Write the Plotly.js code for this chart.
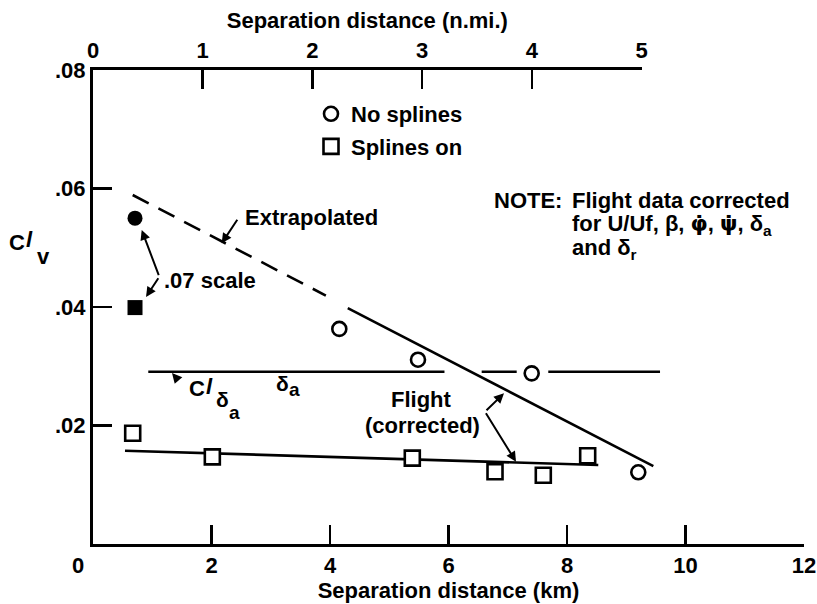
<!DOCTYPE html>
<html>
<head>
<meta charset="utf-8">
<script src="https://cdn.plot.ly/plotly-3.0.1.min.js"></script>
<style>
  html, body { margin: 0; padding: 0; background: #fff; }
  #chart { width: 817px; height: 604px; }
</style>
</head>
<body>
<div id="chart"></div>
<script>
// ---------------- data ----------------
const kmTicks = [2, 4, 6, 8, 10, 12];
const nmiTicks = [0, 1, 2, 3, 4, 5];
const yTicks = [0.02, 0.04, 0.06, 0.08];
const yTickText = ['.02', '.04', '.06', '.08'];
const KM_PER_NMI = 1.852;

// open circles: no splines
const noSplinesX = [4.157, 5.485, 7.404, 9.203];
const noSplinesY = [0.0363, 0.0311, 0.0288, 0.0121];
// open squares: splines on
const splinesOnX = [0.670, 2.014, 5.389, 6.785, 7.600, 8.349];
const splinesOnY = [0.0187, 0.0147, 0.0145, 0.0122, 0.0116, 0.0149];
// .07 scale points
const scaleCircleX = [0.709];
const scaleCircleY = [0.0550];
const scaleSquareX = [0.709];
const scaleSquareY = [0.0399];
// extrapolated (dashed) and fitted (solid) no-splines line
const extrapX = [0.670, 3.93];
const extrapY = [0.0589, 0.04193];
const fitNoSplX = [4.30, 9.457];
const fitNoSplY = [0.03981, 0.01316];
// C_l_delta_a * delta_a reference line (broken around marks)
const clDaX = [0.933, 5.932, null, 6.560, 7.151, null, 7.684, 9.570];
const clDaY = [0.02908, 0.02908, null, 0.02908, 0.02908, null, 0.02908, 0.02908];
// flight (corrected) line through the squares
const flightX = [0.540, 8.528];
const flightY = [0.01575, 0.01333];

// ---------------- layout constants ----------------
const L = 93, R = 13, T = 70, B = 60, W = 817 - L - R, H = 604 - T - B;
const FONT = 'Liberation Sans, Arial, Helvetica, sans-serif';
const FS = 22;

function P(px, py) { return { xref: 'paper', yref: 'paper', x: (px - L) / W, y: (T + H - py) / H }; }

function label(text, px, py, opts) {
  return Object.assign(P(px, py), {
    text: text, showarrow: false, xanchor: 'center', yanchor: 'middle',
    font: { family: FONT, size: FS, color: '#000', weight: 'bold' }
  }, opts || {});
}
function arrow(hx, hy, tx, ty) {
  return {
    xref: 'x', yref: 'y', axref: 'x', ayref: 'y',
    x: hx, y: hy, ax: tx, ay: ty, text: '', showarrow: true,
    arrowhead: 2, arrowsize: 1, arrowwidth: 2, arrowcolor: '#000', standoff: 0, startstandoff: 0
  };
}

const lineStyle = { color: '#000', width: 2.6 };

const traces = [
  // empty trace to register the top (n.mi.) axis
  { type: 'scatter', mode: 'markers', x: [], y: [], xaxis: 'x2', yaxis: 'y', showlegend: false, hoverinfo: 'skip' },
  { type: 'scatter', mode: 'lines', x: extrapX, y: extrapY, line: { color: '#000', width: 2.6, dash: '18px,11px' }, showlegend: false, hoverinfo: 'skip' },
  { type: 'scatter', mode: 'lines', x: fitNoSplX, y: fitNoSplY, line: lineStyle, showlegend: false, hoverinfo: 'skip' },
  { type: 'scatter', mode: 'lines', x: clDaX, y: clDaY, line: lineStyle, connectgaps: false, showlegend: false, hoverinfo: 'skip' },
  { type: 'scatter', mode: 'lines', x: flightX, y: flightY, line: lineStyle, showlegend: false, hoverinfo: 'skip' },
  { type: 'scatter', mode: 'markers', name: 'No splines', x: noSplinesX, y: noSplinesY, legendgroup: 'a',
    marker: { symbol: 'circle', size: 14, color: '#fff', line: { color: '#000', width: 2.6 } } },
  { type: 'scatter', mode: 'markers', name: 'Splines on', x: splinesOnX, y: splinesOnY, legendgroup: 'b',
    marker: { symbol: 'square', size: 15, color: '#fff', line: { color: '#000', width: 2.6 } } },
  { type: 'scatter', mode: 'markers', x: scaleCircleX, y: scaleCircleY, showlegend: false,
    marker: { symbol: 'circle', size: 15, color: '#000' } },
  { type: 'scatter', mode: 'markers', x: scaleSquareX, y: scaleSquareY, showlegend: false,
    marker: { symbol: 'square', size: 15, color: '#000' } }
];

const axisFont = { family: FONT, size: FS, color: '#000', weight: 'bold' };
const DJ = '<span style="font-family:DejaVu Sans">';

const layout = {
  width: 817, height: 604,
  margin: { l: L, r: R, t: T, b: B },
  paper_bgcolor: '#fff', plot_bgcolor: 'rgba(0,0,0,0)',
  font: { family: FONT, size: FS, color: '#000', weight: 'bold' },
  showlegend: true,
  legend: {
    x: (311 - L) / W, xanchor: 'left', y: (T + H - 93) / H, yanchor: 'top',
    bgcolor: 'rgba(0,0,0,0)', borderwidth: 0, itemwidth: 30, tracegroupgap: 1,
    font: { family: FONT, size: FS, color: '#000', weight: 'bold' }
  },
  xaxis: {
    range: [0, 12], domain: [0, 1], showline: true, linecolor: '#000', linewidth: 3,
    ticks: 'inside', ticklen: 19, tickwidth: 2.5, tickcolor: '#000',
    tickvals: kmTicks, showgrid: false, zeroline: false, tickfont: axisFont,
    title: { text: 'Separation distance (km)', font: axisFont, standoff: 4 }
  },
  xaxis2: {
    range: [0, 5], domain: [0, 5 * KM_PER_NMI / 12], anchor: 'y', side: 'top',
    showline: true, linecolor: '#000', linewidth: 3,
    ticks: 'inside', ticklen: 19, tickwidth: 2.5, tickcolor: '#000',
    tickvals: nmiTicks, showgrid: false, zeroline: false, tickfont: axisFont,
    ticklabelstandoff: 0,
    title: { text: 'Separation distance (n.mi.)', font: axisFont, standoff: 4 }
  },
  yaxis: {
    range: [0, 0.08], showline: true, linecolor: '#000', linewidth: 3,
    ticks: 'inside', ticklen: 19, tickwidth: 2.5, tickcolor: '#000',
    tickvals: yTicks, ticktext: yTickText, showgrid: false, zeroline: false, tickfont: axisFont,
    ticklabelstandoff: 0
  },
  annotations: [
    // origin label
    label('0', 78, 565),
    // y-axis title C_l_v
    label('C', 17, 242),
    label('<i>l</i>', 29, 240),
    label('v', 43, 256),
    // Extrapolated
    label('Extrapolated', 243, 217, { xanchor: 'left' }),
    arrow(2.172, 0.05075, 2.452, 0.05497),
    // .07 scale
    label('.07 scale', 162, 280, { xanchor: 'left' }),
    arrow(0.822, 0.0530, 1.119, 0.04511),
    arrow(0.895, 0.04169, 1.119, 0.04511),
    // C_l_delta_a  delta_a
    arrow(1.333, 0.02886, 1.435, 0.02768),
    label('C', 197, 388),
    label('<i>l</i>', 209, 386),
    label('δ', 222, 399, { font: { family: FONT, size: 21, color: '#000', weight: 'bold' } }),
    label('a', 234, 413, { font: { family: FONT, size: 19, color: '#000', weight: 'bold' } }),
    label('δ', 282, 383, { font: { family: FONT, size: 21, color: '#000', weight: 'bold' } }),
    label('a', 294, 389, { font: { family: FONT, size: 19, color: '#000', weight: 'bold' } }),
    // Flight (corrected)
    label('Flight', 421, 399),
    label('(corrected)', 422, 426),
    arrow(6.937, 0.02543, 6.616, 0.02233),
    arrow(7.139, 0.01389, 6.616, 0.02233),
    // NOTE
    label('NOTE:', 492, 200, { xanchor: 'left' }),
    label('Flight data corrected', 570, 200, { xanchor: 'left' }),
    label('for U/Uf, β, ' + DJ + 'φ̇</span>, ' + DJ + 'ψ̇</span>, δ<sub>a</sub>', 570, 225, { xanchor: 'left' }),
    label('and δ<sub>r</sub>', 570, 249, { xanchor: 'left' })
  ]
};

Plotly.newPlot('chart', traces, layout, { displayModeBar: false, staticPlot: true });
</script>
</body>
</html>
